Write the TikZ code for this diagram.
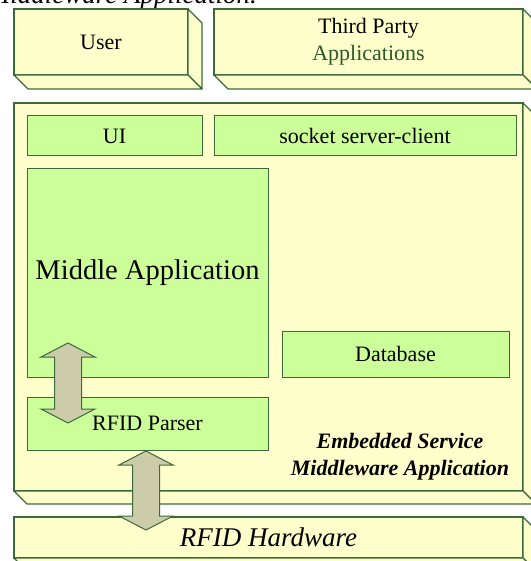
\documentclass[tikz,border=0pt]{standalone}
\usepackage{fontspec}
\setmainfont{Liberation Serif}
\usetikzlibrary{calc}

\definecolor{slabfill}{HTML}{FFFFCC}
\definecolor{partfill}{HTML}{CCFF99}
\definecolor{edgegreen}{HTML}{3B6B3B}
\definecolor{arrowfill}{HTML}{CCCCAA}
\definecolor{appgreen}{HTML}{2A5A2A}

\tikzset{
  slab/.style={draw=edgegreen, fill=slabfill, line width=1.2pt, inner sep=0pt,
    outer sep=0pt, font=\fontsize{22}{27}\selectfont, align=center},
  slabside/.style={draw=edgegreen, fill=slabfill, line width=1.2pt, line join=round},
  part/.style={draw=edgegreen, fill=partfill, line width=1pt, inner sep=0pt,
    outer sep=0pt, font=\fontsize{22}{27}\selectfont, align=center},
  fat/.style={draw=edgegreen, fill=arrowfill, line width=1pt, line join=miter},
}

% right and bottom faces of a slab whose front face is node #1, depth #2
\newcommand\slabdepth[2]{%
  \draw[slabside] (#1.north east) -- ++(#2,#2) -- ($(#1.south east)+(#2,#2)$)
    -- (#1.south east) -- cycle;
  \draw[slabside] (#1.south west) -- (#1.south east) -- ++(#2,#2)
    -- ($(#1.south west)+(#2,#2)$) -- cycle;
}

% fat two-headed arrow from tip coordinate #1 (top) to tip coordinate #2 (bottom)
\newcommand\fatarrow[2]{%
  \draw[fat] (#1) -- ($(#1)+(27,14)$) -- ($(#1)+(13.5,14)$)
    -- ($(#2)+(13.5,-14)$) -- ($(#2)+(27,-14)$) -- (#2)
    -- ($(#2)+(-27,-14)$) -- ($(#2)+(-13.5,-14)$)
    -- ($(#1)+(-13.5,14)$) -- ($(#1)+(-27,14)$) -- cycle;
}

\begin{document}
\begin{tikzpicture}[x=1pt, y=-1pt]
  \useasboundingbox (0,0) rectangle (530,561);

  % caption running above the figure
  \node[anchor=base east, inner sep=0pt, font=\fontsize{27}{32}\selectfont\itshape]
    (caption) at (257,4) {Middleware Application.};

  % top row
  \node[slab, minimum width=174pt, minimum height=66pt] (user) at (101,42) {User};
  \slabdepth{user}{14}
  \node[slab, minimum width=309pt, minimum height=66pt] (third) at (368.5,42)
    {Third Party\\{\color{appgreen}Applications}};
  \slabdepth{third}{14}

  % middleware slab
  \node[slab, minimum width=509pt, minimum height=388pt] (mw) at (268.5,297) {};
  \slabdepth{mw}{13}

  % hardware slab
  \node[slab, minimum width=509pt, minimum height=41pt,
        font=\fontsize{27}{32}\selectfont\itshape] (hw) at (268.5,537.5) {RFID Hardware};
  \slabdepth{hw}{13}

  % modules inside the middleware
  \node[part, minimum width=175pt, minimum height=40pt] (ui) at (114.5,136) {UI};
  \node[part, minimum width=302pt, minimum height=40pt] (sock) at (365,136) {socket server-client};
  \node[part, minimum width=241pt, minimum height=208pt,
        font=\fontsize{28.5}{34}\selectfont] (midapp) at (147.5,273) {Middle Application};
  \node[part, minimum width=241pt, minimum height=53pt] (parser) at (147.5,423.5) {RFID Parser};
  \node[part, minimum width=227pt, minimum height=46pt] (db) at (395.5,354) {Database};

  \node[inner sep=0pt, align=center, font=\fontsize{22}{27}\selectfont\bfseries\itshape]
    (mwlabel) at (400,456.5) {Embedded Service\\Middleware Application};

  % data paths
  \coordinate (p1) at (68,343);
  \coordinate (p2) at (68,423);
  \fatarrow{p1}{p2}
  \coordinate (h1) at (146,451);
  \coordinate (h2) at (146,530);
  \fatarrow{h1}{h2}
\end{tikzpicture}
\end{document}
